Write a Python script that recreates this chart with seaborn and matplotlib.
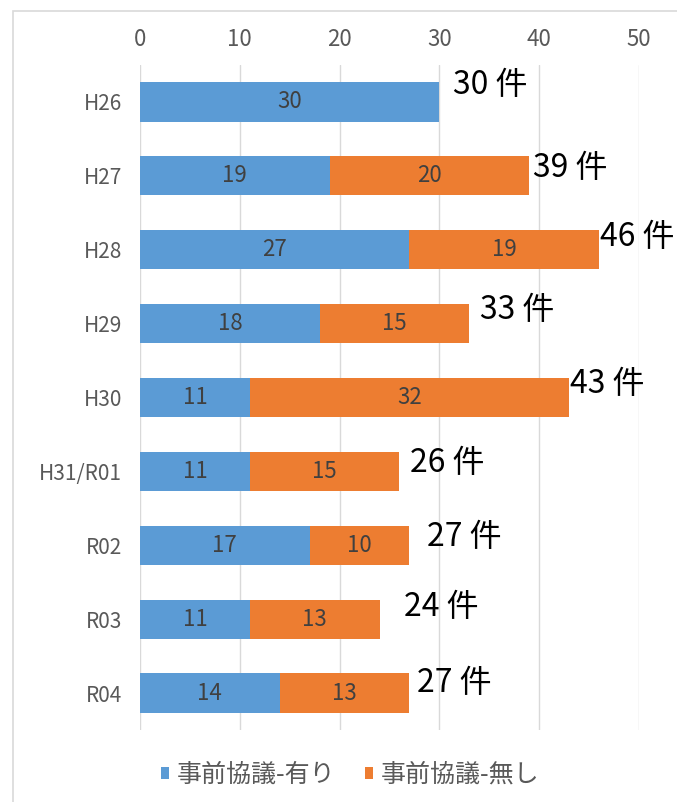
import matplotlib
matplotlib.use("Agg")
import matplotlib.pyplot as plt
from matplotlib.patches import Patch, Rectangle
import seaborn as sns
import pandas as pd

# Data
years = ["H26", "H27", "H28", "H29", "H30", "H31/R01", "R02", "R03", "R04"]
with_consult = [30, 19, 27, 18, 11, 11, 17, 11, 14]
without_consult = [0, 20, 19, 15, 32, 15, 10, 13, 13]
series_names = ["事前協議-有り", "事前協議-無し"]
x_ticks = [0, 10, 20, 30, 40, 50]

totals = [a + b for a, b in zip(with_consult, without_consult)]
df = pd.DataFrame({"year": years, "with": with_consult,
                   "without": without_consult, "total": totals})

# Hand-placed offsets (pixels) of the total labels from each bar end
label_offsets = [(14, 17), (4, 8), (1, 13), (11, 14), (1, 14),
                 (11, 8), (18, 8), (24, 12), (8, 10)]

BLUE = "#5B9BD5"
ORANGE = "#ED7D31"
GRID = "#D9D9D9"
TEXT = "#595959"

sns.set_theme(style="white")
plt.rcParams["font.family"] = ["Noto Sans CJK JP", "DejaVu Sans"]

fig = plt.figure(figsize=(6.77, 8.02), dpi=100)
ax = fig.add_axes([140 / 677, 1 - 730 / 802, (639 - 140) / 677, (730 - 65) / 802])

# Stacked bars: full totals in orange, the consulted share in blue on top
sns.barplot(data=df, y="year", x="total", color=ORANGE, orient="h",
            width=0.53, saturation=1, ax=ax)
sns.barplot(data=df, y="year", x="with", color=BLUE, orient="h",
            width=0.53, saturation=1, ax=ax)
for p in ax.patches:
    p.set_edgecolor("none")

ax.set_xlim(0, 50)
ax.set_ylim(8.5, -0.5)
ax.set_xticks(x_ticks)
ax.xaxis.tick_top()
ax.tick_params(axis="x", length=0, pad=10, labelsize=16, labelcolor=TEXT)
ax.tick_params(axis="y", length=0, pad=13, labelsize=15, labelcolor=TEXT)
ax.set_xlabel("")
ax.set_ylabel("")
ax.grid(axis="x", color=GRID, linewidth=1)
ax.set_axisbelow(True)
for s in ax.spines.values():
    s.set_visible(False)

# Segment value labels
for i, (a, b) in enumerate(zip(with_consult, without_consult)):
    if a > 0:
        ax.text(a / 2, i, str(a), ha="center", va="center",
                fontsize=16, color="#404040")
    if b > 0:
        ax.text(a + b / 2, i, str(b), ha="center", va="center",
                fontsize=16, color="#404040")

# Total labels
for i, (t, (dx, dy)) in enumerate(zip(totals, label_offsets)):
    ax.annotate(f"{t} 件", xy=(t, i), xytext=(dx, dy),
                textcoords="offset pixels", ha="left", va="center",
                fontsize=23, color="black")

# Legend
handles = [Patch(facecolor=BLUE, edgecolor="none"),
           Patch(facecolor=ORANGE, edgecolor="none")]
fig.legend(handles, series_names, loc="center", ncol=2,
           bbox_to_anchor=(350 / 677, 1 - 775 / 802), frameon=False,
           fontsize=18, labelcolor=TEXT, handlelength=0.32,
           handleheight=0.32, handletextpad=0.3, columnspacing=1.2)

# Chart area border
fig.add_artist(Rectangle((13 / 677, -0.1), 1.2, 1 - 11 / 802 + 0.1,
                         transform=fig.transFigure, fill=False,
                         edgecolor=GRID, linewidth=1.2))

fig.savefig("out.png", dpi=100)
